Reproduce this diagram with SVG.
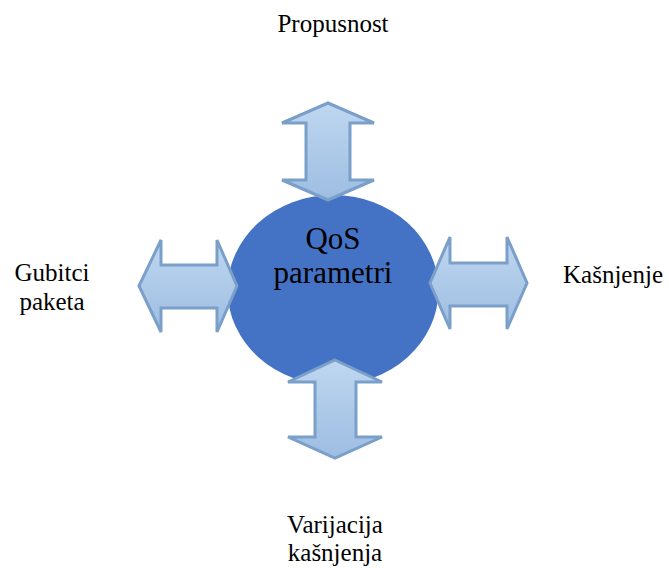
<svg xmlns="http://www.w3.org/2000/svg" width="669" height="568" viewBox="0 0 669 568">
<style>
text{font-family:'Liberation Serif','Times New Roman',Times,Tinos,'DejaVu Serif','Noto Serif',serif}
.lbl{font-size:25px;fill:#000;text-anchor:middle}
.center{font-size:31px;fill:#000;text-anchor:middle}
.arrow{fill:url(#ag);stroke:#7a9fc9;stroke-width:3;stroke-linejoin:miter}
</style>
<defs>
<linearGradient id="ag" x1="0" y1="0" x2="0" y2="1">
<stop offset="0" stop-color="#bfd7f0"/>
<stop offset="1" stop-color="#9dbde2"/>
</linearGradient>
</defs>
<rect width="669" height="568" fill="#fff"/>
<g id="qos">
<ellipse cx="333" cy="290" rx="105.5" ry="95" fill="#4472c4"/>
<text class="center" x="333" y="249">QoS</text>
<text class="center" x="333" y="283">parametri</text>
</g>
<g id="connectors">
<path class="arrow" d="M328,103 L374,123 L350,123 L350,180 L374,180 L328,200 L282,180 L306,180 L306,123 L282,123 Z"/>
<path class="arrow" d="M335,360 L382,382 L356,382 L356,437 L382,437 L335,458 L288,437 L315,437 L315,382 L288,382 Z"/>
<path class="arrow" d="M139,286 L161,240 L161,265 L217,265 L217,240 L237,286 L217,332 L217,308 L161,308 L161,332 Z"/>
<path class="arrow" d="M430,283 L450,237 L450,263 L507,263 L507,237 L527,283 L507,329 L507,306 L450,306 L450,329 Z"/>
</g>
<g id="propusnost"><text class="lbl" x="333" y="32">Propusnost</text></g>
<g id="kasnjenje"><text class="lbl" x="613" y="283">Kašnjenje</text></g>
<g id="gubitci"><text class="lbl" x="52" y="281">Gubitci</text><text class="lbl" x="52" y="310">paketa</text></g>
<g id="varijacija"><text class="lbl" x="335" y="533">Varijacija</text><text class="lbl" x="335" y="561">kašnjenja</text></g>
</svg>
